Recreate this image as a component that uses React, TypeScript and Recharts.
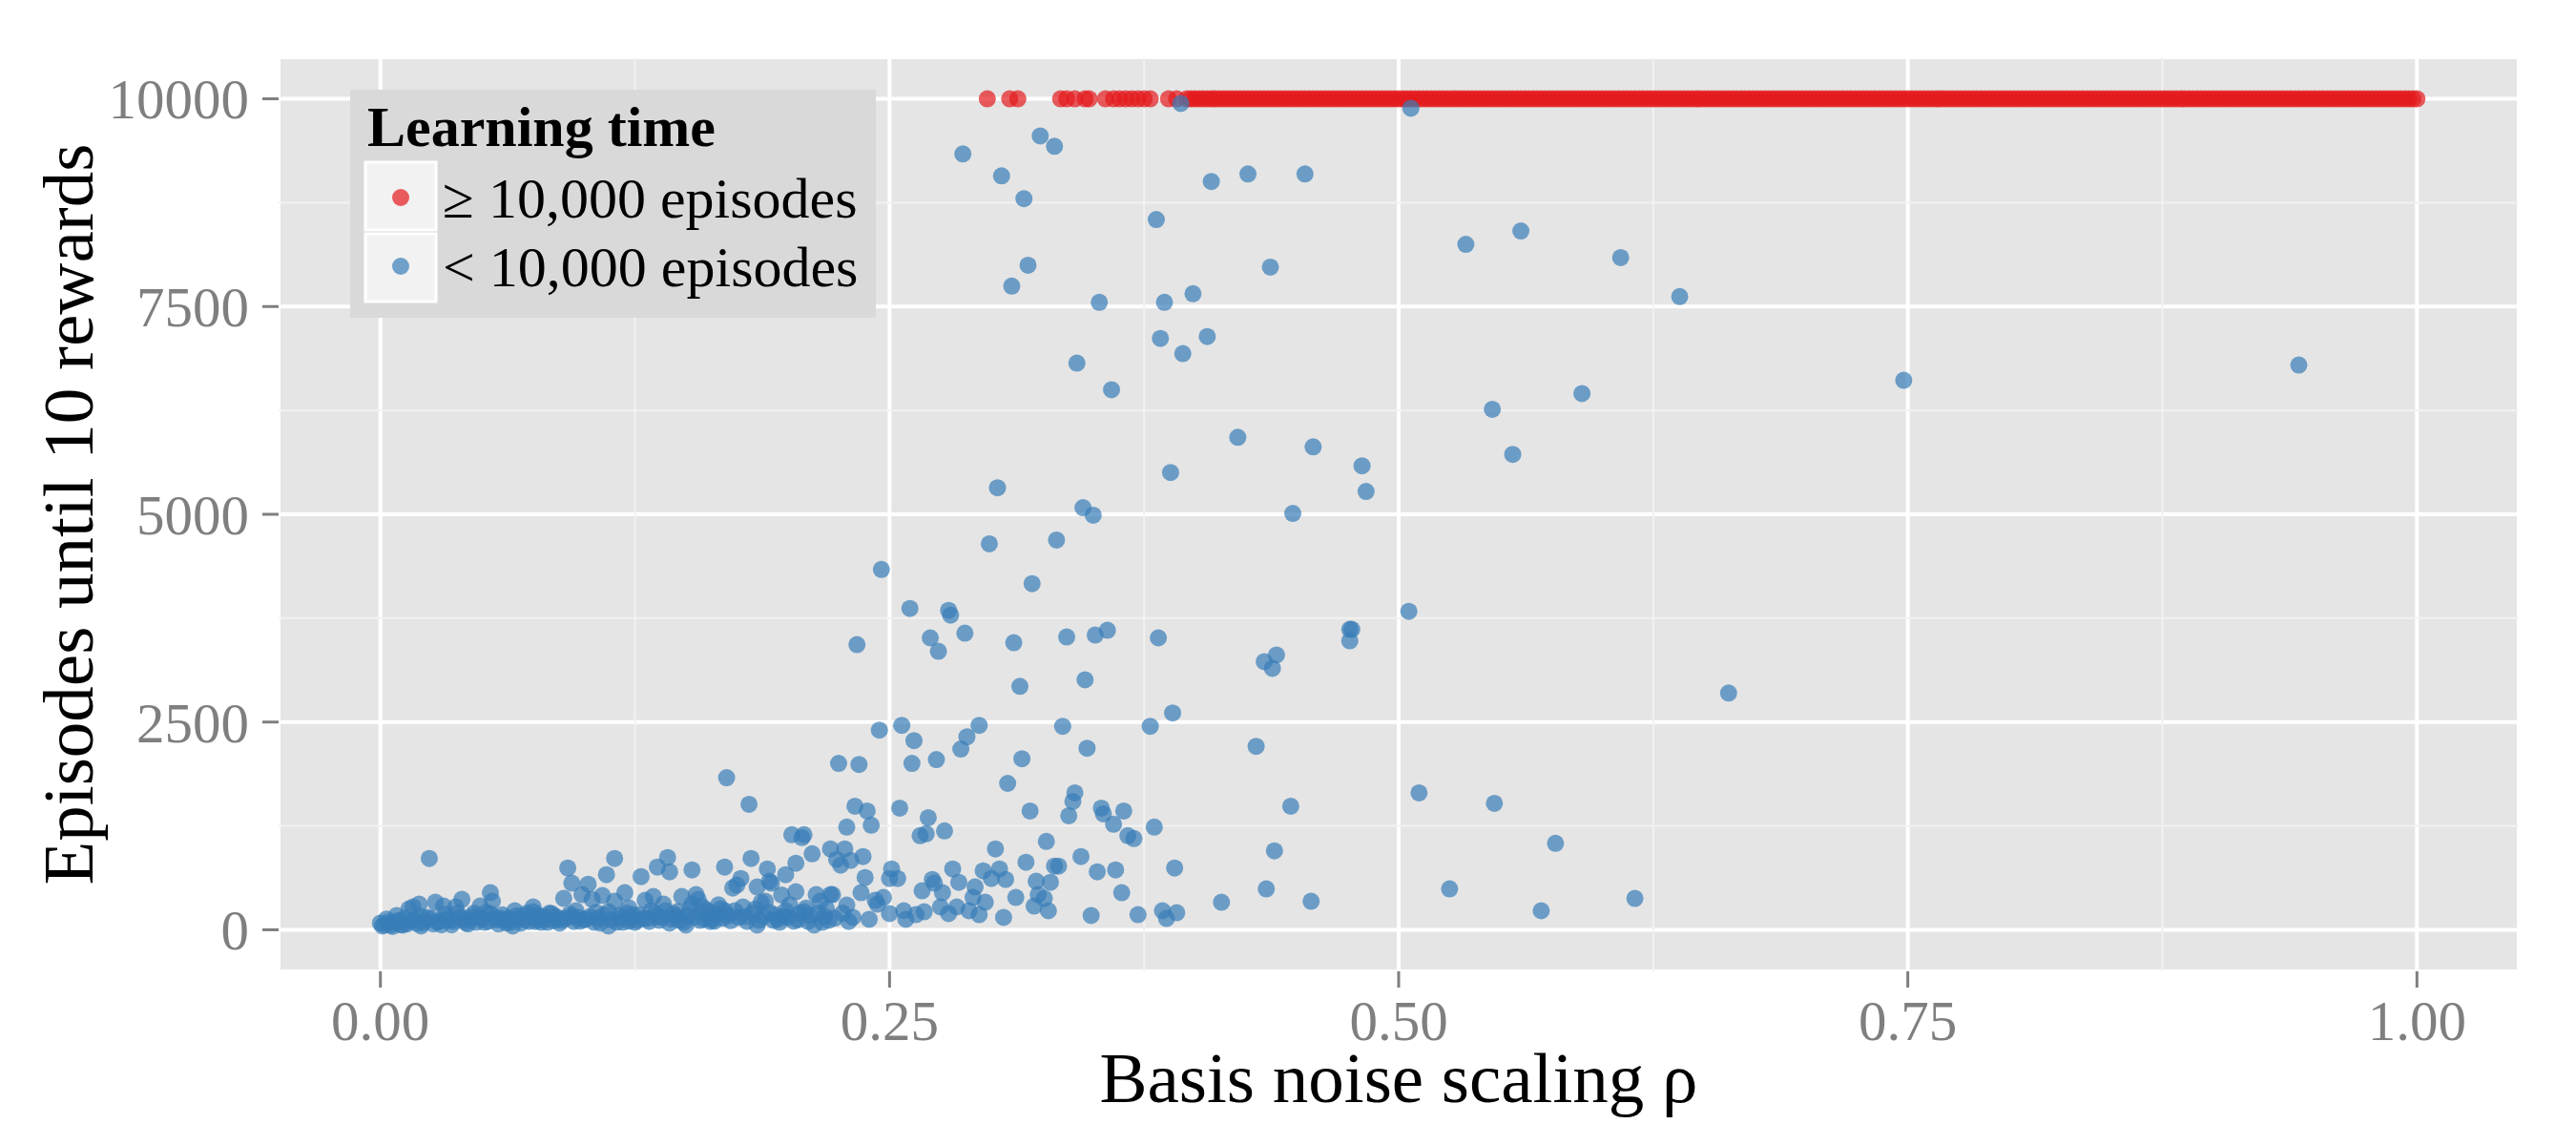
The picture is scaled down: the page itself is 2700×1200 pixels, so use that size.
import React from 'react';
import {
  ScatterChart,
  Scatter,
  XAxis,
  YAxis,
  CartesianGrid,
  ReferenceLine,
  Legend,
  Label,
} from 'recharts';

// ---------- data ----------
const xTicks = [0, 0.25, 0.5, 0.75, 1.0];
const xMinorTicks = [0.125, 0.375, 0.625, 0.875];
const yTicks = [0, 2500, 5000, 7500, 10000];
const yMinorTicks = [1250, 3750, 6250, 8750];

const seriesNames = ['\u2265 10,000 episodes', '< 10,000 episodes'];
const legendTitle = 'Learning time';
const xTitle = 'Basis noise scaling \u03C1';
const yTitle = 'Episodes until 10 rewards';

// runs that hit the 10,000 episode cap (sparse part, then the dense solid band)
const redRhoSparse = [
  0.298, 0.309, 0.313, 0.334, 0.337, 0.341, 0.346, 0.348, 0.356, 0.36, 0.363, 0.366, 0.369, 0.372,
  0.375, 0.378, 0.387, 0.391,
];
const redRhoBand = [
  0.396, 0.398, 0.4, 0.402, 0.404, 0.406, 0.408, 0.41, 0.412, 0.414, 0.416, 0.418, 0.42, 0.422,
  0.424, 0.426, 0.428, 0.43, 0.432, 0.434, 0.436, 0.438, 0.44, 0.442, 0.444, 0.446, 0.448, 0.45,
  0.452, 0.454, 0.456, 0.458, 0.46, 0.462, 0.464, 0.466, 0.468, 0.47, 0.472, 0.474, 0.476, 0.478,
  0.48, 0.482, 0.484, 0.486, 0.488, 0.49, 0.492, 0.494, 0.496, 0.498, 0.5, 0.502, 0.504, 0.506,
  0.508, 0.51, 0.512, 0.514, 0.516, 0.518, 0.52, 0.522, 0.524, 0.526, 0.528, 0.53, 0.532, 0.534,
  0.536, 0.538, 0.54, 0.542, 0.544, 0.546, 0.548, 0.55, 0.552, 0.554, 0.556, 0.558, 0.56, 0.562,
  0.564, 0.566, 0.568, 0.57, 0.572, 0.574, 0.576, 0.578, 0.58, 0.582, 0.584, 0.586, 0.588, 0.59,
  0.592, 0.594, 0.596, 0.598, 0.6, 0.602, 0.604, 0.606, 0.608, 0.61, 0.612, 0.614, 0.616, 0.618,
  0.62, 0.622, 0.624, 0.626, 0.628, 0.63, 0.632, 0.634, 0.636, 0.638, 0.64, 0.642, 0.644, 0.646,
  0.648, 0.65, 0.652, 0.654, 0.656, 0.658, 0.66, 0.662, 0.664, 0.666, 0.668, 0.67, 0.672, 0.674,
  0.676, 0.678, 0.68, 0.682, 0.684, 0.686, 0.688, 0.69, 0.692, 0.694, 0.696, 0.698, 0.7, 0.702,
  0.704, 0.706, 0.708, 0.71, 0.712, 0.714, 0.716, 0.718, 0.72, 0.722, 0.724, 0.726, 0.728, 0.73,
  0.732, 0.734, 0.736, 0.738, 0.74, 0.742, 0.744, 0.746, 0.748, 0.75, 0.752, 0.754, 0.756, 0.758,
  0.76, 0.762, 0.764, 0.766, 0.768, 0.77, 0.772, 0.774, 0.776, 0.778, 0.78, 0.782, 0.784, 0.786,
  0.788, 0.79, 0.792, 0.794, 0.796, 0.798, 0.8, 0.802, 0.804, 0.806, 0.808, 0.81, 0.812, 0.814,
  0.816, 0.818, 0.82, 0.822, 0.824, 0.826, 0.828, 0.83, 0.832, 0.834, 0.836, 0.838, 0.84, 0.842,
  0.844, 0.846, 0.848, 0.85, 0.852, 0.854, 0.856, 0.858, 0.86, 0.862, 0.864, 0.866, 0.868, 0.87,
  0.872, 0.874, 0.876, 0.878, 0.88, 0.882, 0.884, 0.886, 0.888, 0.89, 0.892, 0.894, 0.896, 0.898,
  0.9, 0.902, 0.904, 0.906, 0.908, 0.91, 0.912, 0.914, 0.916, 0.918, 0.92, 0.922, 0.924, 0.926,
  0.928, 0.93, 0.932, 0.934, 0.936, 0.938, 0.94, 0.942, 0.944, 0.946, 0.948, 0.95, 0.952, 0.954,
  0.956, 0.958, 0.96, 0.962, 0.964, 0.966, 0.968, 0.97, 0.972, 0.974, 0.976, 0.978, 0.98, 0.982,
  0.984, 0.986, 0.988, 0.99, 0.992, 0.994, 0.996, 0.998, 1.0,
];
const capEpisodes = 10000;

// runs that finished below the cap: rho and episodes (paired)
const blueRho = [
  0.0, 0.001, 0.003, 0.005, 0.007, 0.008, 0.01, 0.011, 0.012, 0.014, 0.015, 0.016, 0.018, 0.019,
  0.02, 0.02, 0.022, 0.024, 0.025, 0.026, 0.027, 0.029, 0.031, 0.032, 0.034, 0.035, 0.037, 0.039,
  0.04, 0.042, 0.044, 0.046, 0.048, 0.049, 0.051, 0.054, 0.055, 0.054, 0.057, 0.059, 0.062, 0.065,
  0.066, 0.068, 0.07, 0.073, 0.075, 0.075, 0.078, 0.08, 0.082, 0.084, 0.087, 0.089, 0.09, 0.092,
  0.094, 0.094, 0.096, 0.098, 0.099, 0.101, 0.102, 0.103, 0.104, 0.106, 0.108, 0.109, 0.111, 0.112,
  0.112, 0.115, 0.115, 0.117, 0.119, 0.12, 0.122, 0.122, 0.124, 0.126, 0.128, 0.129, 0.13, 0.131,
  0.133, 0.134, 0.136, 0.137, 0.136, 0.139, 0.14, 0.141, 0.142, 0.142, 0.144, 0.145, 0.147, 0.148,
  0.15, 0.152, 0.153, 0.153, 0.154, 0.155, 0.156, 0.157, 0.158, 0.161, 0.161, 0.163, 0.164, 0.166,
  0.167, 0.169, 0.169, 0.17, 0.171, 0.173, 0.175, 0.177, 0.178, 0.179, 0.181, 0.182, 0.183, 0.185,
  0.185, 0.186, 0.187, 0.189, 0.19, 0.191, 0.192, 0.193, 0.195, 0.197, 0.198, 0.199, 0.199, 0.201,
  0.202, 0.203, 0.204, 0.204, 0.206, 0.207, 0.208, 0.208, 0.211, 0.212, 0.213, 0.214, 0.216, 0.218,
  0.22, 0.221, 0.221,
  0.225, 0.235, 0.228, 0.224, 0.226, 0.231, 0.237, 0.238, 0.229, 0.233, 0.239, 0.241, 0.245, 0.256,
  0.262, 0.261, 0.273, 0.285, 0.288, 0.294, 0.335, 0.347, 0.378, 0.43, 0.315, 0.308, 0.341, 0.34,
  0.338, 0.319, 0.354, 0.355, 0.365, 0.36, 0.367, 0.37, 0.38, 0.447, 0.439, 0.39, 0.435, 0.413,
  0.255, 0.269, 0.265, 0.268, 0.277, 0.251, 0.25, 0.254, 0.236, 0.243, 0.247, 0.244, 0.229, 0.222,
  0.232, 0.24, 0.25, 0.257, 0.258, 0.263, 0.267, 0.266, 0.271, 0.272, 0.276, 0.281, 0.284, 0.292,
  0.296, 0.302, 0.3, 0.304, 0.307, 0.291, 0.297, 0.275, 0.279, 0.283, 0.289, 0.294, 0.306, 0.312,
  0.317, 0.322, 0.327, 0.329, 0.323, 0.326, 0.321, 0.328, 0.331, 0.333, 0.344, 0.352, 0.361, 0.364,
  0.349, 0.372, 0.384, 0.386, 0.391, 0.457,
  0.421, 0.458, 0.482, 0.484, 0.388, 0.303, 0.345, 0.35, 0.448, 0.299, 0.332, 0.246, 0.32, 0.26,
  0.279, 0.28, 0.505, 0.234, 0.27, 0.274, 0.287, 0.311, 0.337, 0.351, 0.357, 0.382, 0.476, 0.477,
  0.476, 0.434, 0.44, 0.438, 0.314, 0.346, 0.389,
  0.324, 0.331, 0.286, 0.305, 0.316, 0.393, 0.506, 0.408, 0.426, 0.454, 0.381, 0.533, 0.56, 0.318,
  0.31, 0.437, 0.399, 0.353, 0.385, 0.383, 0.406, 0.394, 0.342, 0.359, 0.546,
  0.609, 0.638, 0.748, 0.942, 0.59, 0.556, 0.662, 0.51, 0.547, 0.577, 0.525, 0.57, 0.616,
];
const blueEpisodes = [
  80, 46, 130, 57, 95, 172, 60, 57, 140, 252, 103, 275, 75, 309,
  160, 46, 115, 858, 137, 70, 332, 103, 286, 190, 114, 60, 275, 149,
  366, 85, 126, 200, 149, 286, 90, 446, 343, 195, 120, 137, 80, 46,
  229, 130, 172, 100, 275, 217, 120, 160, 90, 195, 140, 114, 378, 744,
  561, 160, 230, 103, 423, 130, 549, 160, 366, 210, 80, 412, 664, 46,
  217, 858, 343, 172, 90, 446, 103, 263, 180, 114, 641, 137, 355, 137,
  230, 400, 160, 114, 755, 309, 229, 870, 80, 698, 190, 160, 114, 400,
  57, 250, 721, 309, 149, 423, 366, 114, 280, 217, 160, 130, 103, 300,
  252, 755, 229, 1830, 172, 503, 538, 618, 275, 160, 1510, 858, 200, 515,
  57, 114, 330, 343, 732, 584, 561, 114, 126, 420, 160, 664, 229, 300,
  1144, 103, 801, 458, 200, 1110, 1144, 217, 172, 915, 57, 423, 343, 160,
  114, 973, 423,
  2002, 1990, 973, 847, 778, 835, 881, 629, 1236, 1487, 1430, 1259, 2403, 2460,
  2277, 2002, 2048, 2174, 2323, 2460, 2449, 2185, 2449, 2208, 2059, 1762, 1648, 1545,
  1373, 1430, 1464, 1396, 1430, 1270, 1133, 1098, 1236, 1487, 950, 744, 492, 332,
  1464, 1350, 1133, 1156, 1190, 732, 618, 618, 446, 355, 389, 309, 297, 423,
  149, 126, 195, 229, 126, 183, 217, 469, 606, 561, 446, 732, 572, 515,
  709, 973, 618, 732, 606, 389, 332, 275, 195, 275, 229, 183, 149, 389,
  812, 584, 1064, 572, 423, 378, 286, 229, 767, 767, 881, 698, 721, 446,
  172, 183, 229, 137, 206, 343,
  5927, 5812, 5583, 5275, 5503, 5320, 5080, 4989, 5011, 4645, 4691, 4336, 4165, 3867,
  3844, 3787, 3833, 3432, 3513, 3352, 3570, 3455, 3524, 3547, 3604, 3513, 3616, 3616,
  3478, 3227, 3307, 3146, 2929, 3009, 2609,
  9554, 9428, 9336, 9073, 8799, 9943, 9886, 9005, 9096, 9096, 8547, 8249, 8410, 7998,
  7746, 7975, 7654, 7551, 7551, 7117, 7140, 6934, 6819, 6499, 6264,
  8089, 7620, 6613, 6796, 6453, 5721, 2849, 1648, 1522, 1041, 492, 229, 378,
];
// the solid low band near zero (rho < 0.23)
const bandRho = [
  0.002, 0.004, 0.006, 0.009, 0.013, 0.017, 0.021, 0.023, 0.028, 0.03, 0.033, 0.036, 0.038, 0.041,
  0.043, 0.045, 0.047, 0.05, 0.052, 0.053, 0.056, 0.058, 0.06, 0.061, 0.063, 0.064, 0.067, 0.069,
  0.071, 0.072, 0.074, 0.076, 0.077, 0.079, 0.081, 0.083, 0.085, 0.086, 0.088, 0.091, 0.093, 0.095,
  0.097, 0.1, 0.105, 0.107, 0.11, 0.113, 0.116, 0.118, 0.121, 0.123, 0.125, 0.127, 0.132, 0.135,
  0.138, 0.143, 0.146, 0.149, 0.151, 0.159, 0.16, 0.162, 0.165, 0.168, 0.172, 0.174, 0.176, 0.18,
  0.184, 0.188, 0.191, 0.194, 0.196, 0.2, 0.205, 0.209, 0.21, 0.215, 0.217, 0.219, 0.223, 0.227,
  0.23,
];
const bandEpisodes = [
  60, 90, 40, 110, 70, 120, 80, 150, 90, 60, 130, 100, 200, 120,
  70, 160, 90, 130, 210, 100, 150, 70, 180, 110, 140, 90, 170, 80,
  120, 200, 150, 100, 180, 90, 130, 200, 110, 160, 80, 140, 190, 100,
  150, 120, 90, 140, 180, 120, 90, 150, 200, 140, 90, 180, 100, 200,
  150, 130, 220, 90, 170, 130, 240, 100, 190, 140, 110, 230, 150, 100,
  250, 160, 210, 180, 90, 150, 120, 260, 100, 200, 90, 250, 140, 200,
  100,
];

const redRho = [...redRhoSparse, ...redRhoBand];
const redData = redRho.map((x) => ({ x, y: capEpisodes }));
const blueData = [
  ...bandRho.map((x, i) => ({ x, y: bandEpisodes[i] })),
  ...blueRho.map((x, i) => ({ x, y: blueEpisodes[i] })),
];

// ---------- style ----------
const RED = '#E41A1C';
const BLUE = '#377EB8';
const seriesColors = [RED, BLUE];
const FONT = '"Liberation Serif", "Times New Roman", serif';

const makeDot = (color: string) => (props: any) => {
  if (props.cx == null || props.cy == null) return <g />;
  return <circle cx={props.cx} cy={props.cy} r={9} fill={color} fillOpacity={0.7} />;
};

const XTitle = (props: any) => {
  const vb = props.viewBox || { x: 292, y: 1018, width: 2348, height: 182 };
  return (
    <text
      x={vb.x + vb.width / 2}
      y={vb.y + 137}
      textAnchor="middle"
      fontFamily={FONT}
      fontSize={75}
      fill="#000"
    >
      {xTitle}
    </text>
  );
};

const YTitle = (props: any) => {
  const vb = props.viewBox || { x: 0, y: 60, width: 292, height: 958 };
  const x = vb.x + 97;
  const y = vb.y + vb.height / 2;
  return (
    <text
      x={x}
      y={y}
      transform={`rotate(-90, ${x}, ${y})`}
      textAnchor="middle"
      fontFamily={FONT}
      fontSize={75}
      fill="#000"
    >
      {yTitle}
    </text>
  );
};

const renderLegend = (props: any) => {
  const payload = props.payload || [];
  const items = seriesNames.map((name, i) => {
    const p = payload.find((q: any) => q.value === name);
    return { name, color: (p && p.color) || seriesColors[i] };
  });
  return (
    <svg width={551} height={239} style={{ display: 'block' }}>
      <rect x={0} y={0} width={551} height={239} fill="#d9d9d9" />
      <text x={18} y={59} fontFamily={FONT} fontWeight="bold" fontSize={60} fill="#000">
        {legendTitle}
      </text>
      {items.map((it: any, i: number) => (
        <g key={i}>
          <rect
            x={16}
            y={76 + i * 75}
            width={74}
            height={71}
            fill="#f2f2f2"
            stroke="#ffffff"
            strokeWidth={3}
          />
          <circle cx={53} cy={113 + i * 72} r={9} fill={it.color} fillOpacity={0.7} />
          <text x={97} y={134 + i * 72} fontFamily={FONT} fontSize={60} fill="#000">
            {it.name}
          </text>
        </g>
      ))}
    </svg>
  );
};

export default function App() {
  return (
    <div style={{ position: 'absolute', left: 0, top: 0, width: 2700, height: 1200, background: '#fff' }}>
      <ScatterChart width={2700} height={1200} margin={{ top: 60, right: 60, bottom: 0, left: 0 }}>
        <CartesianGrid fill="#e5e5e5" stroke="#ffffff" strokeWidth={4} />
        {xMinorTicks.map((v) => (
          <ReferenceLine key={'xm' + v} x={v} stroke="#f2f2f2" strokeWidth={2} />
        ))}
        {yMinorTicks.map((v) => (
          <ReferenceLine key={'ym' + v} y={v} stroke="#f2f2f2" strokeWidth={2} />
        ))}
        <XAxis
          type="number"
          dataKey="x"
          domain={[-0.05, 1.05]}
          allowDataOverflow
          ticks={xTicks}
          interval={0}
          tickFormatter={(v: number) => v.toFixed(2)}
          axisLine={false}
          tickSize={17}
          tickMargin={13}
          tickLine={{ stroke: '#7f7f7f', strokeWidth: 3 }}
          tick={{ fill: '#7f7f7f', fontSize: 59, fontFamily: FONT }}
          height={182}
        >
          <Label content={<XTitle />} />
        </XAxis>
        <YAxis
          type="number"
          dataKey="y"
          domain={[-500, 10500]}
          allowDataOverflow
          ticks={yTicks}
          interval={0}
          tickFormatter={(v: number) => String(v)}
          axisLine={false}
          tickSize={17}
          tickMargin={14}
          tickLine={{ stroke: '#7f7f7f', strokeWidth: 3 }}
          tick={{ fill: '#7f7f7f', fontSize: 59, fontFamily: FONT }}
          width={292}
        >
          <Label content={<YTitle />} />
        </YAxis>
        <Scatter
          name={seriesNames[0]}
          data={redData}
          fill={RED}
          shape={makeDot(RED)}
          isAnimationActive={false}
        />
        <Scatter
          name={seriesNames[1]}
          data={blueData}
          fill={BLUE}
          shape={makeDot(BLUE)}
          isAnimationActive={false}
        />
        <Legend
          layout="horizontal"
          verticalAlign="middle"
          align="center"
          content={renderLegend}
          wrapperStyle={{ position: 'absolute', left: 367, top: 94, width: 551, height: 239, margin: 0, padding: 0 }}
        />
      </ScatterChart>
    </div>
  );
}
